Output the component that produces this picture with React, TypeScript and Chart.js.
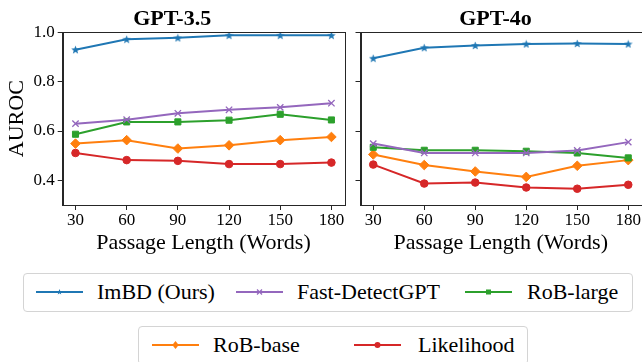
import React, { useEffect, useRef } from 'react';
import { Chart, registerables } from 'chart.js';

Chart.register(...registerables);

// ---------- data ----------
const passageLengths = [30, 60, 90, 120, 150, 180];
const yTickValues = [0.4, 0.6, 0.8, 1.0];
const panelTitles = ['GPT-3.5', 'GPT-4o'];
const seriesNames = ['ImBD (Ours)', 'Fast-DetectGPT', 'RoB-large', 'RoB-base', 'Likelihood'];
const seriesColors = ['#1f77b4', '#9467bd', '#2ca02c', '#ff7f0e', '#d62728'];

const gpt35ImBD = [0.93, 0.972, 0.978, 0.988, 0.988, 0.988];
const gpt35Fast = [0.63, 0.646, 0.672, 0.686, 0.696, 0.713];
const gpt35RobLarge = [0.587, 0.637, 0.637, 0.644, 0.668, 0.645];
const gpt35RobBase = [0.549, 0.563, 0.529, 0.542, 0.563, 0.576];
const gpt35Likelihood = [0.511, 0.482, 0.479, 0.466, 0.466, 0.472];

const gpt4oImBD = [0.895, 0.938, 0.947, 0.953, 0.955, 0.953];
const gpt4oFast = [0.549, 0.511, 0.511, 0.511, 0.521, 0.555];
const gpt4oRobLarge = [0.534, 0.522, 0.522, 0.518, 0.511, 0.491];
const gpt4oRobBase = [0.505, 0.462, 0.436, 0.414, 0.459, 0.482];
const gpt4oLikelihood = [0.464, 0.387, 0.391, 0.371, 0.366, 0.382];

const FONT = "'Liberation Serif', 'Times New Roman', serif";
const AXIS_COLOR = '#262626';

function makeStar(size: number, color: string): HTMLCanvasElement {
  const c = document.createElement('canvas');
  c.width = size;
  c.height = size;
  const ctx = c.getContext('2d')!;
  const cx = size / 2;
  const cy = size / 2;
  const R = size / 2;
  const r = R * 0.42;
  ctx.beginPath();
  for (let i = 0; i < 10; i++) {
    const ang = -Math.PI / 2 + (i * Math.PI) / 5;
    const rad = i % 2 === 0 ? R : r;
    const px = cx + rad * Math.cos(ang);
    const py = cy + rad * Math.sin(ang) + 0.4;
    if (i === 0) ctx.moveTo(px, py);
    else ctx.lineTo(px, py);
  }
  ctx.closePath();
  ctx.fillStyle = color;
  ctx.fill();
  return c;
}

const framePlugin = {
  id: 'frame',
  afterDatasetsDraw(chart: any) {
    const { ctx, chartArea: a } = chart;
    ctx.save();
    ctx.strokeStyle = AXIS_COLOR;
    ctx.lineWidth = 1;
    ctx.strokeRect(Math.round(a.left) + 0.5, Math.round(a.top) + 0.5, Math.round(a.right - a.left), Math.round(a.bottom - a.top));
    ctx.restore();
  },
};

function buildDatasets(values: number[][]) {
  const styles: any[] = [
    { pointStyle: makeStar(9, seriesColors[0]), pointRadius: 4.5 },
    { pointStyle: 'crossRot', pointRadius: 4.5, pointBorderWidth: 1.3 },
    { pointStyle: 'rect', pointRadius: 4.3 },
    { pointStyle: 'rectRot', pointRadius: 4.8 },
    { pointStyle: 'circle', pointRadius: 3.8 },
  ];
  return values.map((vals, i) => ({
    label: seriesNames[i],
    data: passageLengths.map((x, j) => ({ x, y: vals[j] })),
    borderColor: seriesColors[i],
    backgroundColor: seriesColors[i],
    pointBackgroundColor: seriesColors[i],
    pointBorderColor: seriesColors[i],
    borderWidth: 2,
    pointBorderWidth: 1,
    tension: 0,
    ...styles[i],
  }));
}

function makeConfig(title: string, values: number[][], showYLabels: boolean, yWidth: number, padRight: number): any {
  return {
    type: 'line',
    data: { datasets: buildDatasets(values) },
    plugins: [framePlugin],
    options: {
      animation: false,
      responsive: false,
      events: [],
      layout: { padding: { left: 0, right: padRight, top: 0, bottom: 0 } },
      plugins: {
        legend: { display: false },
        tooltip: { enabled: false },
        title: {
          display: true,
          text: title,
          color: '#000',
          font: { family: FONT, size: 22, weight: 'bold', lineHeight: 1.2 },
          padding: { top: 6, bottom: 0 },
        },
      },
      scales: {
        x: {
          type: 'linear',
          min: 22.5,
          max: 187.5,
          afterBuildTicks: (scale: any) => {
            scale.ticks = passageLengths.map((v) => ({ value: v }));
          },
          afterFit: (scale: any) => {
            scale.height = 65;
          },
          ticks: {
            color: '#000',
            font: { family: FONT, size: 17 },
            padding: 0,
            maxRotation: 0,
            autoSkip: false,
            callback: (v: any) => String(v),
          },
          grid: { display: true, drawOnChartArea: false, drawTicks: true, tickLength: 5, color: AXIS_COLOR },
          border: { display: true, color: AXIS_COLOR },
          title: {
            display: true,
            text: 'Passage Length (Words)',
            color: '#000',
            font: { family: FONT, size: 22, lineHeight: 1.2 },
            padding: { top: 0, bottom: 14 },
          },
        },
        y: {
          type: 'linear',
          min: 0.3,
          max: 1.0,
          afterBuildTicks: (scale: any) => {
            scale.ticks = yTickValues.map((v) => ({ value: v }));
          },
          afterFit: (scale: any) => {
            scale.width = yWidth;
          },
          ticks: {
            display: showYLabels,
            color: '#000',
            font: { family: FONT, size: 17 },
            padding: 3,
            callback: (v: any) => Number(v).toFixed(1),
          },
          grid: { display: true, drawOnChartArea: false, drawTicks: true, tickLength: 5, color: AXIS_COLOR },
          border: { display: true, color: AXIS_COLOR },
          title: {
            display: showYLabels,
            text: 'AUROC',
            color: '#000',
            font: { family: FONT, size: 22, lineHeight: 1.2 },
            padding: { top: 4, bottom: 0 },
          },
        },
      },
    },
  };
}

function Marker({ index }: { index: number }) {
  const c = seriesColors[index];
  const cx = 23.5;
  const cy = 6;
  let shape: any = null;
  if (index === 0) {
    const pts: string[] = [];
    for (let i = 0; i < 10; i++) {
      const ang = -Math.PI / 2 + (i * Math.PI) / 5;
      const rad = i % 2 === 0 ? 3 : 1.3;
      pts.push(`${cx + rad * Math.cos(ang)},${cy + rad * Math.sin(ang)}`);
    }
    shape = <polygon points={pts.join(' ')} fill={c} />;
  } else if (index === 1) {
    shape = (
      <g stroke={c} strokeWidth={1.2}>
        <line x1={cx - 2.5} y1={cy - 2.5} x2={cx + 2.5} y2={cy + 2.5} />
        <line x1={cx - 2.5} y1={cy + 2.5} x2={cx + 2.5} y2={cy - 2.5} />
      </g>
    );
  } else if (index === 2) {
    shape = <rect x={cx - 2.5} y={cy - 2.5} width={5} height={5} fill={c} />;
  } else if (index === 3) {
    shape = <polygon points={`${cx},${cy - 4} ${cx + 3.2},${cy} ${cx},${cy + 4} ${cx - 3.2},${cy}`} fill={c} />;
  } else {
    shape = <circle cx={cx} cy={cy} r={3} fill={c} />;
  }
  return (
    <svg width={47} height={12} style={{ display: 'block' }}>
      <line x1={0} y1={cy} x2={47} y2={cy} stroke={c} strokeWidth={2} />
      {shape}
    </svg>
  );
}

type LegendItem = { index: number; handleX: number; textX: number };

function LegendBox({ left, top, width, items }: { left: number; top: number; width: number; items: LegendItem[] }) {
  const h = 39;
  const cy = 17.5;
  return (
    <div
      style={{
        position: 'absolute',
        left,
        top,
        width,
        height: h,
        boxSizing: 'border-box',
        border: '1px solid #d4d4d4',
        borderRadius: 4,
        background: 'rgba(255,255,255,0.8)',
      }}
    >
      {items.map((it) => (
        <React.Fragment key={it.index}>
          <div style={{ position: 'absolute', left: it.handleX - left - 1, top: cy - 6 }}>
            <Marker index={it.index} />
          </div>
          <div
            style={{
              position: 'absolute',
              left: it.textX - left - 1,
              top: cy - 14,
              height: 28,
              lineHeight: '28px',
              fontFamily: FONT,
              fontSize: 22,
              color: '#000',
              whiteSpace: 'nowrap',
            }}
          >
            {seriesNames[it.index]}
          </div>
        </React.Fragment>
      ))}
    </div>
  );
}

export default function App() {
  const leftRef = useRef<HTMLCanvasElement | null>(null);
  const rightRef = useRef<HTMLCanvasElement | null>(null);

  useEffect(() => {
    document.body.style.margin = '0';
    const c1 = new Chart(
      leftRef.current!,
      makeConfig(panelTitles[0], [gpt35ImBD, gpt35Fast, gpt35RobLarge, gpt35RobBase, gpt35Likelihood], true, 62.7, 5.7)
    );
    const c2 = new Chart(
      rightRef.current!,
      makeConfig(panelTitles[1], [gpt4oImBD, gpt4oFast, gpt4oRobLarge, gpt4oRobBase, gpt4oLikelihood], false, 10.5, 9)
    );
    return () => {
      c1.destroy();
      c2.destroy();
    };
  }, []);

  return (
    <div
      style={{
        position: 'fixed',
        left: 0,
        top: 0,
        width: 642,
        height: 362,
        overflow: 'hidden',
        background: '#fff',
      }}
    >
      <canvas ref={leftRef} width={350} height={270} style={{ position: 'absolute', left: 0, top: 0, width: 350, height: 270 }} />
      <canvas ref={rightRef} width={300} height={270} style={{ position: 'absolute', left: 350, top: 0, width: 300, height: 270 }} />
      <LegendBox
        left={23}
        top={273}
        width={610}
        items={[
          { index: 0, handleX: 36, textX: 97 },
          { index: 1, handleX: 236, textX: 297 },
          { index: 2, handleX: 465, textX: 527 },
        ]}
      />
      <LegendBox
        left={138}
        top={326}
        width={390}
        items={[
          { index: 3, handleX: 152, textX: 213 },
          { index: 4, handleX: 354, textX: 418 },
        ]}
      />
    </div>
  );
}
